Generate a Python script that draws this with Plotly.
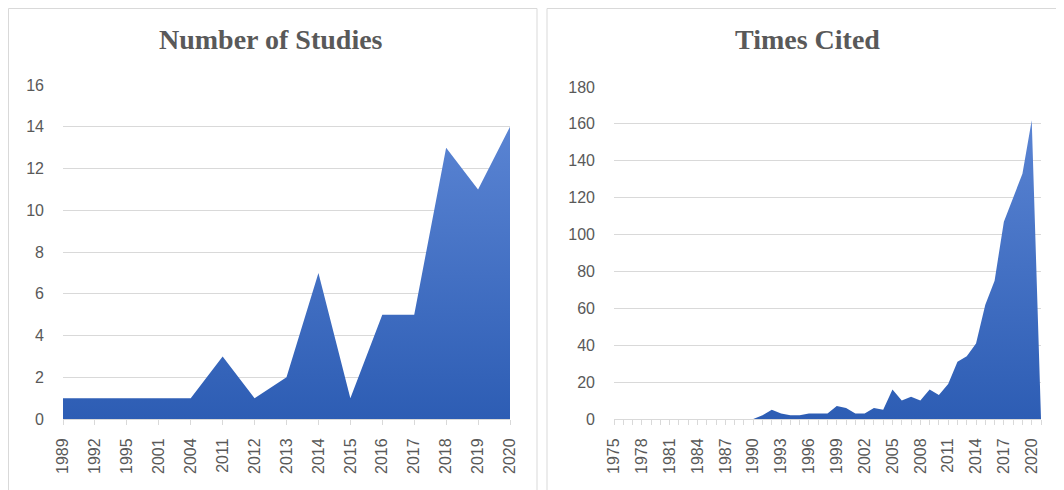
import plotly.graph_objects as go

# ---- Data ----
studies_years = ["1989", "1992", "1995", "2001", "2004", "2011", "2012", "2013",
                 "2014", "2015", "2016", "2017", "2018", "2019", "2020"]
studies_counts = [1, 1, 1, 1, 1, 3, 1, 2, 7, 1, 5, 5, 13, 11, 14]

cited_years = list(range(1975, 2022))
cited_counts = [0, 0, 0, 0, 0, 0, 0, 0, 0, 0,      # 1975-1984
                0, 0, 0, 0, 0, 0, 2, 5, 3, 2,      # 1985-1994
                2, 3, 3, 3, 7, 6, 3, 3, 6, 5,      # 1995-2004
                16, 10, 12, 10, 16, 13, 19, 31, 34, 41,  # 2005-2014
                62, 75, 107, 120, 133, 162, 0]     # 2015-2021

left_title = "Number of Studies"
right_title = "Times Cited"

# page body has an 8px default margin; figure drawn at (8,8)
OFF = 8
W, H = 1064 - OFF, 490 - OFF
GRAY = "#595959"
GRID = "#d9d9d9"

def px_x(p):
    return (p - OFF) / W

def px_y(p):
    return 1 - (p - OFF) / H

fig = go.Figure()

grad_left = dict(type="vertical", start=0, stop=max(studies_counts),
                 colorscale=[[0, "#2d5db4"], [1, "#5a84d3"]])
grad_right = dict(type="vertical", start=0, stop=max(cited_counts),
                  colorscale=[[0, "#2d5db4"], [1, "#5a84d3"]])

fig.add_trace(go.Scatter(x=studies_years, y=studies_counts, mode="lines",
                         line=dict(width=0, color="#3a68bd"), fill="tozeroy",
                         fillgradient=grad_left, xaxis="x", yaxis="y",
                         showlegend=False, hoverinfo="x+y"))
fig.add_trace(go.Scatter(x=cited_years, y=cited_counts, mode="lines",
                         line=dict(width=0, color="#3a68bd"), fill="tozeroy",
                         fillgradient=grad_right, xaxis="x2", yaxis="y2",
                         showlegend=False, hoverinfo="x+y"))

tickfont = dict(family="Liberation Sans, Arial, sans-serif", size=16, color=GRAY)
titlefont = dict(family="Liberation Serif, Times New Roman, serif", size=28, color=GRAY)

fig.update_layout(
    width=W, height=H,
    margin=dict(l=0, r=0, t=0, b=0, autoexpand=False),
    paper_bgcolor="white", plot_bgcolor="white",
    xaxis=dict(domain=[px_x(63), px_x(510)], type="category",
               range=[0, len(studies_years) - 1], showgrid=False,
               showline=True, linecolor=GRID, linewidth=1,
               ticks="outside", ticklen=5, tickcolor=GRID, tickwidth=1,
               tickangle=-90, tickfont=tickfont, ticklabelstandoff=7,
               anchor="y", fixedrange=True, automargin=False),
    yaxis=dict(domain=[px_y(419), px_y(85)], range=[0, 16], dtick=2,
               showgrid=True, gridcolor=GRID, gridwidth=1, zeroline=False,
               showline=False, tickfont=tickfont, ticklabelstandoff=18,
               anchor="x", fixedrange=True, automargin=False),
    xaxis2=dict(domain=[px_x(614), px_x(1041)], type="linear",
                range=[1975, 2021], tick0=1975, dtick=3, showgrid=False,
                showline=True, linecolor=GRID, linewidth=1,
                ticks="outside", ticklen=5, tickcolor=GRID, tickwidth=1,
                minor=dict(dtick=1, ticks="outside", ticklen=5, tickcolor=GRID,
                           showgrid=False),
                tickangle=-90, tickfont=tickfont, ticklabelstandoff=7,
                anchor="y2", fixedrange=True, automargin=False),
    yaxis2=dict(domain=[px_y(419), px_y(87)], range=[0, 180], dtick=20,
                showgrid=True, gridcolor=GRID, gridwidth=1, zeroline=False,
                showline=False, tickfont=tickfont, ticklabelstandoff=18,
                anchor="x2", fixedrange=True, automargin=False),
    annotations=[
        dict(text=f"<b>{left_title}</b>", x=px_x(271), y=px_y(40),
             xref="paper", yref="paper", xanchor="center", yanchor="middle",
             showarrow=False, font=titlefont),
        dict(text=f"<b>{right_title}</b>", x=px_x(807), y=px_y(40),
             xref="paper", yref="paper", xanchor="center", yanchor="middle",
             showarrow=False, font=titlefont),
    ],
    shapes=[
        dict(type="rect", xref="paper", yref="paper",
             x0=px_x(8.5), x1=px_x(537), y0=-0.05, y1=px_y(8.5),
             line=dict(color=GRID, width=1), fillcolor="rgba(0,0,0,0)", layer="below"),
        dict(type="rect", xref="paper", yref="paper",
             x0=px_x(547), x1=px_x(1062), y0=-0.05, y1=px_y(8.5),
             line=dict(color=GRID, width=1), fillcolor="rgba(0,0,0,0)", layer="below"),
    ],
)

fig.write_html("out.html")
